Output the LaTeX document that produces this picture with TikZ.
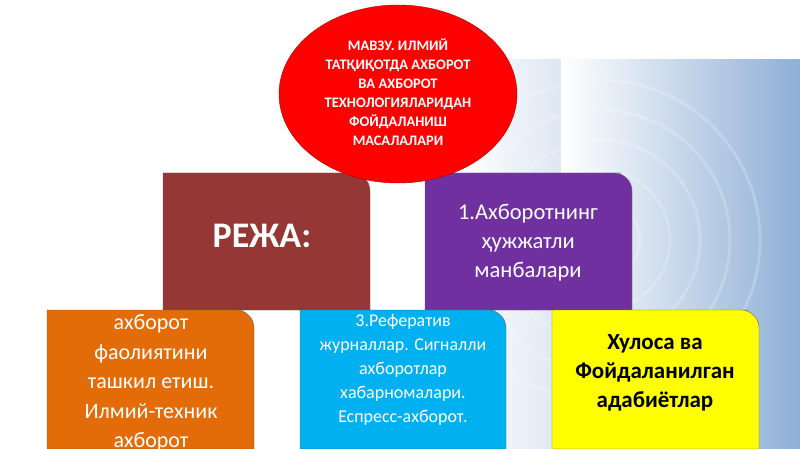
\documentclass[tikz,border=0pt]{standalone}
\usepackage{fontspec}
\setmainfont{Carlito}
\usetikzlibrary{shapes.geometric}
\definecolor{brn}{HTML}{953735}
\definecolor{prp}{HTML}{7030A0}
\definecolor{org}{HTML}{E36C09}
\definecolor{blu}{HTML}{00B0F0}
\definecolor{ylw}{HTML}{FFFF00}
\definecolor{bgb}{HTML}{8FAFD6}
\tikzset{
  box/.style={draw=black!60,line width=0.4pt},
  lbl/.style={text=white,align=center,font=\fontsize{22.5}{29}\selectfont},
}
\newcommand{\mybox}[5]{% x1,y1(top),x2,y2(bottom),color ; rounded top-right
  \filldraw[box,fill=#5] (#1,#4) -- (#1,#2) -- (#3-10,#2) [rounded corners=18pt]-- (#3,#2) [sharp corners]-- (#3,#4) -- cycle;}
\begin{document}
\begin{tikzpicture}[x=1pt,y=-1pt]
\useasboundingbox (0,0) rectangle (800,449);
\clip (0,0) rectangle (800,449);
\fill[white] (0,0) rectangle (800,449);
\shade[left color=white,right color=bgb] (560,60) rectangle (800,449);
\shade[left color=white,right color=white!70!bgb] (460,60) rectangle (560.5,449);
\foreach \r in {40,70,100,130,160}
  \draw[white,opacity=0.2,line width=3pt] (600,240) circle (\r);
\mybox{163}{173}{370}{310}{brn}
\mybox{425}{173}{632}{310}{prp}
\mybox{47}{310}{254}{449}{org}
\mybox{300}{310}{506}{449}{blu}
\mybox{552}{310}{759}{449}{ylw}
\node[lbl,font=\bfseries\fontsize{36}{40}\selectfont] (reja) at (262,236) {РЕЖА:};
\node[lbl] (src) at (528,243) {1.Ахборотнинг\\ҳужжатли\\манбалари};
\node[lbl,anchor=north,font=\fontsize{22}{29.5}\selectfont] (org) at (151,311) {ахборот\\фаолиятини\\ташкил етиш.\\Илмий-техник\\ахборот};
\node[lbl,anchor=north,font=\fontsize{18}{24}\selectfont] (ref) at (403,311) {3.Реферaтив\\журналлар. Сигналли\\ахборотлар\\хабарномалари.\\Еспресс-ахборот.};
\node[lbl,text=black,font=\bfseries\fontsize{23}{29}\selectfont] (con) at (655,373) {Хулоса ва\\Фойдаланилган\\адабиётлар};
\node[ellipse,fill=red,draw=red!70!black,minimum width=238pt,minimum height=178pt,inner sep=0pt] (title) at (398,94) {};
\node[text=white,align=center,font=\bfseries\fontsize{14.5}{19}\selectfont] (ttl) at (398,92) {МАВЗУ. ИЛМИЙ\\ТАТҚИҚОТДА АХБОРОТ\\ВА АХБОРОТ\\ТЕХНОЛОГИЯЛАРИДАН\\ФОЙДАЛАНИШ\\МАСАЛАЛАРИ};
\end{tikzpicture}
\end{document}
